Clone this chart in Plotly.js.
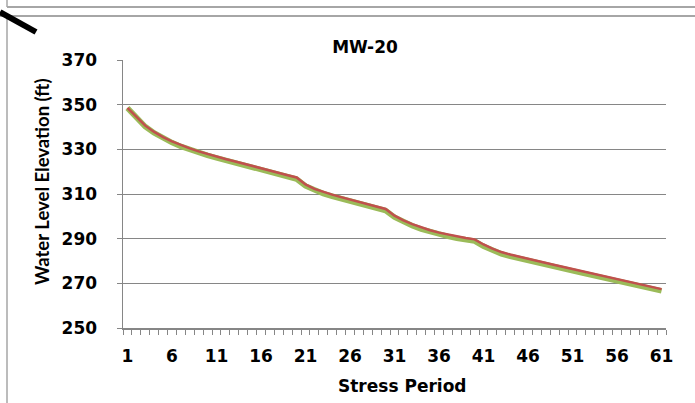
<!DOCTYPE html>
<html>
<head>
<meta charset="utf-8">
<script src="https://cdn.plot.ly/plotly-3.0.1.min.js"></script>
<style>
html,body{margin:0;padding:0;background:#fff;}
#chart{width:695px;height:403px;}
</style>
</head>
<body>
<div id="chart"></div>
<script>
// ---- data ----
const stressPeriods = [1,2,3,4,5,6,7,8,9,10,11,12,13,14,15,16,17,18,19,20,21,22,23,24,25,26,27,28,29,30,31,32,33,34,35,36,37,38,39,40,41,42,43,44,45,46,47,48,49,50,51,52,53,54,55,56,57,58,59,60,61];
const simulatedElev = [348.5,344.0,340.2,337.3,335.0,333.0,331.3,329.8,328.5,327.3,
  326.2,325.1,324.0,322.9,321.8,320.8,319.8,318.7,317.7,316.7,
  313.6,311.6,310.2,309.0,307.9,306.8,305.8,304.8,303.7,302.6,
  299.6,297.5,295.8,294.3,293.0,291.9,291.0,290.2,289.5,288.9,
  286.6,284.7,283.2,282.1,281.1,280.1,279.2,278.3,277.4,276.5,
  275.6,274.7,273.8,272.9,272.0,271.1,270.2,269.3,268.4,267.5,266.6];
const observedElev = [348.6,344.4,340.6,337.8,335.5,333.6,331.9,330.4,329.1,327.9,
  326.8,325.7,324.7,323.6,322.5,321.5,320.5,319.4,318.4,317.4,
  314.3,312.3,310.9,309.7,308.6,307.5,306.5,305.5,304.4,303.3,
  300.3,298.2,296.5,295.1,293.8,292.7,291.8,291.0,290.3,289.7,
  287.4,285.5,284.0,282.9,281.9,280.9,280.0,279.1,278.2,277.3,
  276.4,275.5,274.6,273.7,272.8,271.9,271.0,270.1,269.2,268.3,267.4];
const xTickVals = [1,6,11,16,21,26,31,36,41,46,51,56,61];
const xTickText = ["1","6","11","16","21","26","31","36","41","46","51","56","61"];
const yTickVals = [250,270,290,310,330,350,370];

const chartTitle = "MW-20";
const xTitle = "Stress Period";
const yTitle = "Water Level Elevation (ft)";

// ---- chart ----
const W = 695, H = 403;
const M = {l:123, r:29, t:60, b:75};
const pw = W - M.l - M.r, ph = H - M.t - M.b;
const px = v => (v - M.l) / pw;      // pixel -> paper x
const py = v => (H - M.b - v) / ph;  // pixel -> paper y

const wide = {family:"DejaVu Sans", size:17, color:"#000", weight:"bold"};
const axisGray = "#868686";

const traces = [
  {x: stressPeriods, y: simulatedElev, name: "Simulated", mode: "lines",
   line: {color: "#9BBB59", width: 5.5}, hoverinfo: "x+y"},
  {x: stressPeriods, y: observedElev, name: "Observed", mode: "lines",
   line: {color: "#C0504D", width: 2.5}, hoverinfo: "x+y"}
];

const frame = "#a6a6a6";
const layout = {
  width: W, height: H, autosize: false,
  margin: M,
  paper_bgcolor: "#fff", plot_bgcolor: "#fff",
  showlegend: false,
  title: {text: chartTitle, font: wide, x: 365 / W, xanchor: "center",
          xref: "container", yref: "container", y: 1 - 47 / H, yanchor: "middle"},
  xaxis: {
    range: [0.5, 61.5], tickmode: "array", tickvals: xTickVals, ticktext: xTickText,
    ticks: "", showgrid: false, zeroline: false,
    showline: true, linecolor: axisGray, linewidth: 1.5,
    tickfont: wide, ticklabelstandoff: 12,
    minor: {tick0: 0.5, dtick: 1, ticks: "outside", ticklen: 5, tickcolor: axisGray, tickwidth: 1, showgrid: false},
    automargin: false
  },
  yaxis: {
    range: [250, 370], tickmode: "array", tickvals: yTickVals,
    ticks: "outside", ticklen: 5, tickcolor: axisGray,
    showline: true, linecolor: axisGray, linewidth: 1.5,
    showgrid: true, gridcolor: axisGray, gridwidth: 1, zeroline: false,
    tickfont: wide, ticklabelstandoff: 16,
    automargin: false
  },
  annotations: [
    {text: xTitle, xref: "paper", yref: "paper", x: px(402), y: py(386),
     xanchor: "center", yanchor: "middle", showarrow: false, font: wide},
    {text: yTitle, xref: "paper", yref: "paper", x: px(42), y: py(182),
     xanchor: "center", yanchor: "middle", textangle: -90, showarrow: false,
     font: {family:"Lato", size:18.5, color:"#000", weight:"bold"}}
  ],
  shapes: [
    {type:"line", xref:"paper", yref:"paper", x0:px(7), x1:px(7), y0:py(0), y1:py(7), line:{color:frame, width:1.5}},
    {type:"line", xref:"paper", yref:"paper", x0:px(7), x1:px(695), y0:py(7), y1:py(7), line:{color:frame, width:2}},
    {type:"line", xref:"paper", yref:"paper", x0:px(0), x1:px(695), y0:py(16), y1:py(16), line:{color:frame, width:2}},
    {type:"line", xref:"paper", yref:"paper", x0:px(7), x1:px(7), y0:py(16), y1:py(403), line:{color:frame, width:1.5}},
    {type:"line", xref:"paper", yref:"paper", x0:px(0), x1:px(36), y0:py(12), y1:py(32), line:{color:"#000", width:6}}
  ]
};

Plotly.newPlot("chart", traces, layout, {displayModeBar: false, staticPlot: true});
</script>
</body>
</html>
